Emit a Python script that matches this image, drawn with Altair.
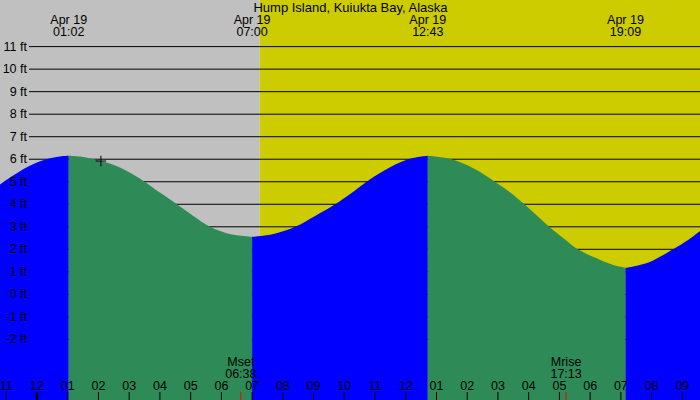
import altair as alt
import pandas as pd

# ---------------- data ----------------
title_text = "Hump Island, Kuiukta Bay, Alaska"

# tide curve: hours after midnight of Apr 19, height in feet
tide_t = [-1.204, -0.75, -0.25, 0.25, 0.75, 1.033, 1.5, 2.08, 2.5, 3.0, 3.45, 4.0, 4.55,
          5.1, 5.63, 6.1, 6.5, 7.0, 7.7, 8.4, 9.05, 9.7, 10.2, 10.67, 11.3, 12.03, 12.717,
          13.49, 14.2, 14.9, 15.39, 15.86, 16.67, 17.13, 17.6, 18.21, 18.75, 19.15, 19.9,
          20.7, 21.2, 21.575]
tide_h = [4.88, 5.30, 5.70, 5.98, 6.12, 6.15, 6.10, 5.92, 5.74, 5.42, 5.05, 4.52, 4.00,
          3.47, 3.00, 2.75, 2.62, 2.55, 2.68, 3.00, 3.48, 4.00, 4.47, 4.95, 5.50, 5.98, 6.15,
          6.00, 5.60, 5.00, 4.53, 4.00, 3.00, 2.49, 2.00, 1.60, 1.30, 1.18, 1.42,
          2.00, 2.42, 2.81]

# high / low tide events
ext_t = [1.033, 7.0, 12.717, 19.15]
ext_date = ["Apr 19", "Apr 19", "Apr 19", "Apr 19"]
ext_time = ["01:02", "07:00", "12:43", "19:09"]

# sunrise (night before, day after)
sunrise_t = 7.25

# moon events
moon_t = [6.633, 17.217]
moon_name = ["Mset", "Mrise"]
moon_time = ["06:38", "17:13"]

# hour axis
hour_t = list(range(-1, 22))
hour_lbl = ["11", "12", "01", "02", "03", "04", "05", "06", "07", "08", "09", "10",
            "11", "12", "01", "02", "03", "04", "05", "06", "07", "08", "09"]

# height axis
ft_levels = list(range(-2, 12))
ft_lbl = [f"{v} ft" for v in ft_levels]

# current time marker
now_t = [2.08]
now_h = [5.92]

# ---------------- scales ----------------
X_MIN, X_MAX = -1.204, 21.575
Y_MIN, Y_MAX = -4.69, 13.07
xs = alt.Scale(domain=[X_MIN, X_MAX], nice=False, zero=False)
ys = alt.Scale(domain=[Y_MIN, Y_MAX], nice=False, zero=False)

FONT = "Liberation Sans"
FS = 12.5

# ---------------- tables ----------------
bg = pd.DataFrame({
    "t0": [X_MIN, sunrise_t],
    "t1": [sunrise_t, X_MAX],
    "c": ["#C0C0C0", "#CCCC00"],
})

bounds = [X_MIN] + ext_t + [X_MAX]
rows = []
for i in range(len(bounds) - 1):
    phase = "rise" if i % 2 == 0 else "fall"
    for t, h in zip(tide_t, tide_h):
        if bounds[i] - 1e-9 <= t <= bounds[i + 1] + 1e-9:
            rows.append({"t": t, "h": h, "seg": i, "phase": phase, "base": Y_MIN})
tide = pd.DataFrame(rows)

grid = pd.DataFrame({"h": ft_levels, "lbl": ft_lbl})
hours = pd.DataFrame({"t": hour_t, "lbl": hour_lbl})
ext = pd.DataFrame({"t": ext_t, "d": ext_date, "tm": ext_time})
moon = pd.DataFrame({"t": moon_t, "n": moon_name, "tm": moon_time})
now = pd.DataFrame({"t": now_t, "h": now_h})
ttl = pd.DataFrame({"s": [title_text]})

# ---------------- layers ----------------
background = alt.Chart(bg).mark_rect().encode(
    x=alt.X("t0:Q", scale=xs, axis=None),
    x2="t1:Q",
    y=alt.value(0), y2=alt.value(400),
    color=alt.Color("c:N", scale=None, legend=None),
)

gridlines = alt.Chart(grid).mark_rule(color="black", strokeWidth=1).encode(
    y=alt.Y("h:Q", scale=ys, axis=None),
    x=alt.value(29), x2=alt.value(700),
)

water = alt.Chart(tide).mark_area(interpolate="catmull-rom", opacity=1).encode(
    x=alt.X("t:Q", scale=xs, axis=None),
    y=alt.Y("h:Q", scale=ys, axis=None, stack=None),
    y2="base:Q",
    detail="seg:N",
    color=alt.Color("phase:N", scale=alt.Scale(domain=["rise", "fall"],
                                               range=["#0000FF", "#2E8B57"]), legend=None),
)

ylabels = alt.Chart(grid).mark_text(align="right", baseline="middle", font=FONT,
                                    fontSize=FS, color="black").encode(
    y=alt.Y("h:Q", scale=ys, axis=None),
    x=alt.value(27),
    text="lbl:N",
)

hour_ticks = alt.Chart(hours).mark_rule(color="black", strokeWidth=1).encode(
    x=alt.X("t:Q", scale=xs, axis=None),
    y=alt.value(392), y2=alt.value(400),
)
midnight_tick = alt.Chart(hours).transform_filter("datum.t == 0").mark_rule(
    color="black", strokeWidth=2.5).encode(
    x=alt.X("t:Q", scale=xs, axis=None),
    y=alt.value(392), y2=alt.value(400),
)
hour_labels = alt.Chart(hours).mark_text(baseline="middle", font=FONT, fontSize=FS,
                                         color="black").encode(
    x=alt.X("t:Q", scale=xs, axis=None),
    y=alt.value(385.5),
    text="lbl:N",
)

moon_ticks = alt.Chart(moon).mark_rule(color="#FF0000", strokeWidth=1).encode(
    x=alt.X("t:Q", scale=xs, axis=None),
    y=alt.value(392), y2=alt.value(400),
)
moon_name_lbl = alt.Chart(moon).mark_text(baseline="middle", font=FONT, fontSize=FS,
                                          color="black").encode(
    x=alt.X("t:Q", scale=xs, axis=None), y=alt.value(362), text="n:N")
moon_time_lbl = alt.Chart(moon).mark_text(baseline="middle", font=FONT, fontSize=FS,
                                          color="black").encode(
    x=alt.X("t:Q", scale=xs, axis=None), y=alt.value(373.5), text="tm:N")

ext_date_lbl = alt.Chart(ext).mark_text(baseline="middle", font=FONT, fontSize=FS,
                                        color="black").encode(
    x=alt.X("t:Q", scale=xs, axis=None), y=alt.value(20), text="d:N")
ext_time_lbl = alt.Chart(ext).mark_text(baseline="middle", font=FONT, fontSize=FS,
                                        color="black").encode(
    x=alt.X("t:Q", scale=xs, axis=None), y=alt.value(31.5), text="tm:N")

now_mark = alt.Chart(now).mark_point(shape="M-1,0L1,0M0,-1L0,1", size=110, filled=False,
                                     color="black", strokeWidth=1, opacity=1).encode(
    x=alt.X("t:Q", scale=xs, axis=None),
    y=alt.Y("h:Q", scale=ys, axis=None),
)

title = alt.Chart(ttl).mark_text(baseline="middle", font=FONT, fontSize=13,
                                 color="black").encode(
    x=alt.value(350.5), y=alt.value(7.5), text="s:N")

chart = alt.layer(
    background, gridlines, water, ylabels, hour_ticks, midnight_tick, hour_labels,
    moon_ticks, moon_name_lbl, moon_time_lbl, ext_date_lbl, ext_time_lbl, now_mark, title,
).properties(
    width=700, height=400, padding=0, autosize=alt.AutoSizeParams(type="none"),
).configure_view(stroke=None)

chart.save("out.html", embed_options={"renderer": "svg", "actions": False})
